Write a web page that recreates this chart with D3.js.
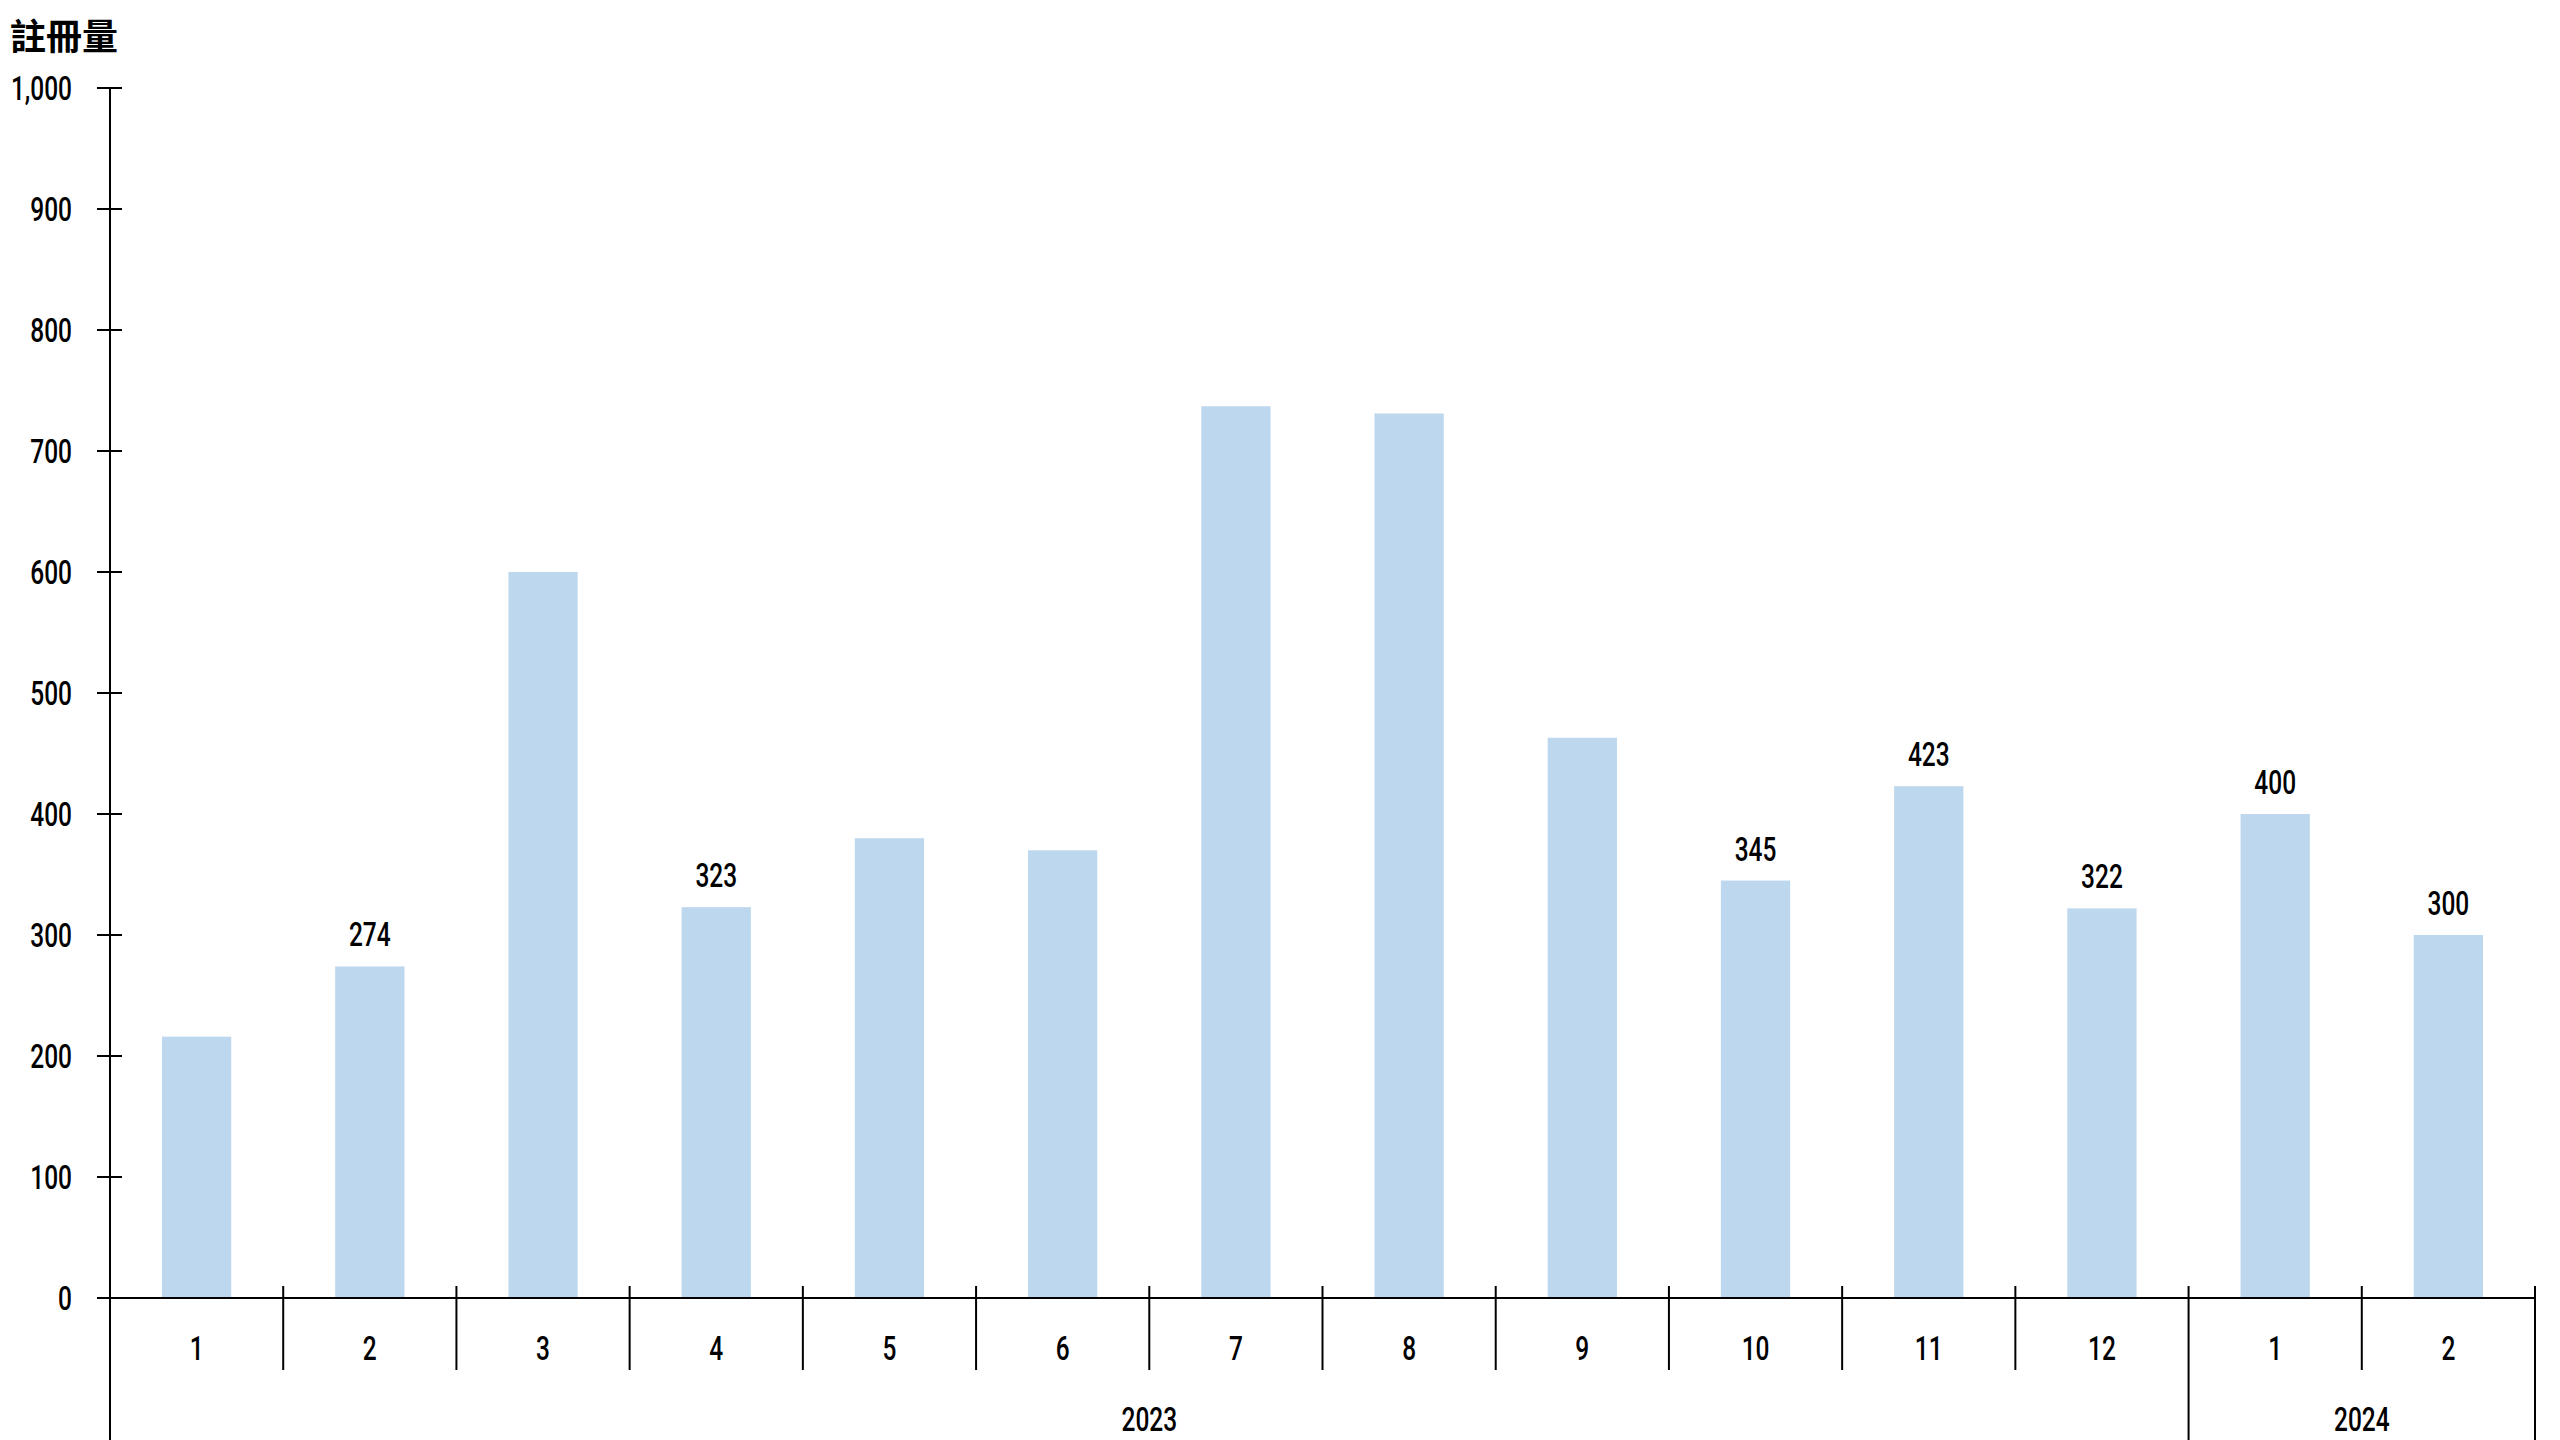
<!DOCTYPE html>
<html>
<head>
<meta charset="utf-8">
<script src="https://cdn.jsdelivr.net/npm/d3@7"></script>
<style>
  html, body { margin: 0; padding: 0; background: #fff; }
  svg { display: block; }
  .num { font-family: Roboto, "Liberation Sans", sans-serif; font-weight: 500; font-size: 34px; fill: #000; }
  .title { font-family: "Noto Sans CJK TC", sans-serif; font-weight: 700; font-size: 36px; fill: #000; }
</style>
</head>
<body>
<div id="chart"></div>
<script>
// data
var months = ['1','2','3','4','5','6','7','8','9','10','11','12','1','2'];
var values = [216, 274, 600, 323, 380, 370, 737, 731, 463, 345, 423, 322, 400, 300];
var showLabel = [false, true, false, true, false, false, false, false, false, true, true, true, true, true];
var yearLabels = ['2023', '2024'];
var yearSpans = [12, 2];
var yTicks = [0, 100, 200, 300, 400, 500, 600, 700, 800, 900, 1000];
var yTitle = '註冊量';

var width = 2560, height = 1440;
var plotLeft = 110, plotRight = 2535, plotTop = 88, zeroY = 1298;
var squeeze = 0.72; // condensed look for numbers

function place(x, y) {
  return 'translate(' + x + ',' + y + ') scale(' + squeeze + ',1)';
}

var svg = d3.select('#chart').append('svg')
  .attr('width', width)
  .attr('height', height);

var x = d3.scaleBand()
  .domain(d3.range(months.length))
  .range([plotLeft, plotRight])
  .padding(0);

var y = d3.scaleLinear()
  .domain([0, 1000])
  .range([zeroY, plotTop]);

var barW = x.bandwidth() * 0.4;

//bars
svg.append('g').selectAll('rect')
  .data(values)
  .enter().append('rect')
    .attr('x', function(d, i) { return x(i) + (x.bandwidth() - barW) / 2; })
    .attr('y', function(d) { return y(d); })
    .attr('width', barW)
    .attr('height', function(d) { return y(0) - y(d); })
    .attr('fill', '#bdd7ee');

//value labels
svg.append('g').selectAll('text')
  .data(values.map(function(v, i) { return {v: v, i: i}; }).filter(function(d) { return showLabel[d.i]; }))
  .enter().append('text')
    .attr('class', 'num')
    .attr('text-anchor', 'middle')
    .attr('transform', function(d) { return place(x(d.i) + x.bandwidth() / 2, y(d.v) - 20); })
    .text(function(d) { return d.v; });

//y axis ticks
var fmt = d3.format(',');
var yg = svg.append('g');
yg.selectAll('line')
  .data(yTicks)
  .enter().append('line')
    .attr('x1', plotLeft - 13).attr('x2', plotLeft + 12)
    .attr('y1', function(d) { return y(d); })
    .attr('y2', function(d) { return y(d); })
    .attr('stroke', '#000').attr('stroke-width', 2);
yg.selectAll('text')
  .data(yTicks)
  .enter().append('text')
    .attr('class', 'num')
    .attr('text-anchor', 'end')
    .attr('transform', function(d) { return place(72, y(d) + 12); })
    .text(function(d) { return fmt(d); });

svg.append('line')
  .attr('x1', plotLeft).attr('x2', plotLeft)
  .attr('y1', plotTop).attr('y2', height)
  .attr('stroke', '#000').attr('stroke-width', 2);

//baseline
svg.append('line')
  .attr('x1', plotLeft - 13).attr('x2', plotRight)
  .attr('y1', zeroY).attr('y2', zeroY)
  .attr('stroke', '#000').attr('stroke-width', 2);

svg.append('text')
  .attr('class', 'title')
  .attr('x', 10)
  .attr('y', 50)
  .text(yTitle);

//month ticks and labels
var yearEdges = [0];
yearSpans.forEach(function(s, i) { yearEdges.push(yearEdges[i] + s); });

var sep = svg.append('g');
d3.range(1, months.length + 1).forEach(function(i) {
  var xx = i < months.length ? x(i) : plotRight;
  var isYear = yearEdges.indexOf(i) >= 0;
  sep.append('line')
    .attr('x1', xx).attr('x2', xx)
    .attr('y1', zeroY - 12).attr('y2', isYear ? height : 1370)
    .attr('stroke', '#000').attr('stroke-width', 2);
});

svg.append('g').selectAll('text')
  .data(months)
  .enter().append('text')
    .attr('class', 'num')
    .attr('text-anchor', 'middle')
    .attr('transform', function(d, i) { return place(x(i) + x.bandwidth() / 2, 1360); })
    .text(function(d) { return d; });

svg.append('g').selectAll('text')
  .data(yearLabels)
  .enter().append('text')
    .attr('class', 'num')
    .attr('text-anchor', 'middle')
    .attr('transform', function(d, i) {
      var x0 = x(yearEdges[i]);
      var x1 = yearEdges[i + 1] < months.length ? x(yearEdges[i + 1]) : plotRight;
      return place((x0 + x1) / 2, 1431);
    })
    .text(function(d) { return d; });
</script>
</body>
</html>
